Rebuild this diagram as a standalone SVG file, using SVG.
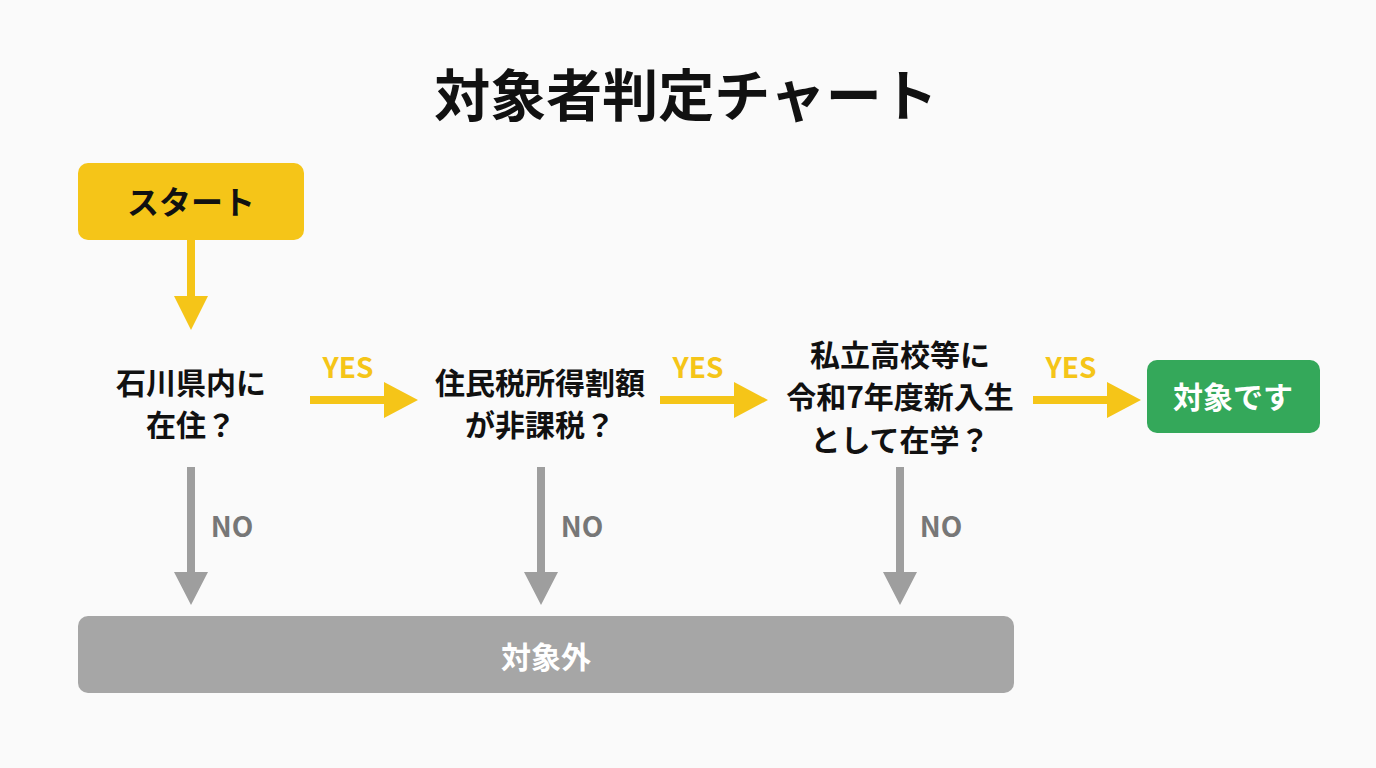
<svg xmlns="http://www.w3.org/2000/svg" width="1376" height="768" viewBox="0 0 1376 768">
<style>
text{font-family:"Noto Sans CJK JP","Noto Sans",sans-serif;font-weight:bold;text-anchor:middle}
.q{font-size:30px;fill:#111}
.yes{font-size:28px;fill:#F5C518}
.no{font-size:28px;fill:#777}
.y{fill:#F5C518}
.g{fill:#9E9E9E}
</style>
<rect width="1376" height="768" fill="#FAFAFA"/>
<text x="686" y="116" font-size="56" fill="#111">対象者判定チャート</text>
<g id="start"><rect x="78" y="163" width="226" height="77" rx="10" fill="#F5C518"/><text x="191" y="214" font-size="32" fill="#111">スタート</text></g>
<g id="q1"><text class="q" x="191" y="394">石川県内に</text><text class="q" x="191" y="436">在住？</text></g>
<g id="q2"><text class="q" x="540" y="394">住民税所得割額</text><text class="q" x="540" y="436">が非課税？</text></g>
<g id="q3"><text class="q" x="900" y="366">私立高校等に</text><text class="q" x="900" y="408">令和7年度新入生</text><text class="q" x="900" y="451">として在学？</text></g>
<g id="target"><rect x="1147" y="360" width="173" height="73" rx="10" fill="#34A85A"/><text x="1233" y="408" font-size="30" fill="#fff">対象です</text></g>
<g id="out"><rect x="78" y="616" width="936" height="77" rx="10" fill="#A6A6A6"/><text x="546" y="668" font-size="30" fill="#fff">対象外</text></g>
<g id="connectors">
<polygon class="y" points="187,240 195,240 195,296 208,296 191,330 174,296 187,296"/>
<polygon class="y" points="310,396 384,396 384,382 418,400 384,418 384,404 310,404"/>
<polygon class="y" points="660,396 734,396 734,382 768,400 734,418 734,404 660,404"/>
<polygon class="y" points="1033,396 1107,396 1107,382 1141,400 1107,418 1107,404 1033,404"/>
<polygon class="g" points="187,467 195,467 195,572 208,572 191,605 174,572 187,572"/>
<polygon class="g" points="537,467 545,467 545,572 558,572 541,605 524,572 537,572"/>
<polygon class="g" points="896,467 904,467 904,572 917,572 900,605 883,572 896,572"/>
<text class="yes" x="348" y="378">YES</text>
<text class="yes" x="698" y="378">YES</text>
<text class="yes" x="1071" y="378">YES</text>
<text class="no" x="232" y="537">NO</text>
<text class="no" x="582" y="537">NO</text>
<text class="no" x="941" y="537">NO</text>
</g>
</svg>
